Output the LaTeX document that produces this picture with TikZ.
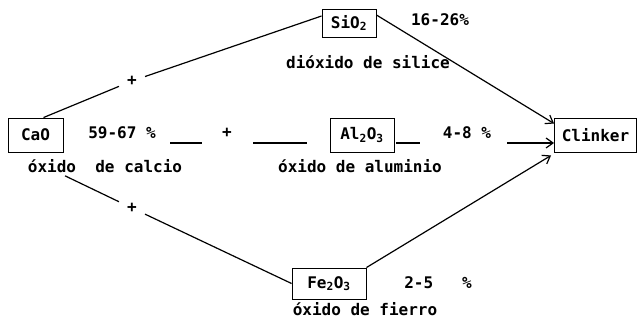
\documentclass[tikz,border=0pt]{standalone}
\usepackage{fontspec}
\setmonofont{DejaVu Sans Mono}
\usetikzlibrary{arrows.meta,positioning}

\newcommand\dotfont{\fontsize{16}{18}\selectfont\ttfamily\bfseries}
\newcommand\chemsub[1]{\textsubscript{#1}}

\tikzset{
  compound/.style={draw,line width=0.9pt,minimum height=34pt,inner sep=0pt,font=\dotfont},
  txt/.style={inner sep=0pt,font=\dotfont},
  link/.style={line width=1.2pt},
  flow/.style={line width=1.2pt,-{Straight Barb[length=7pt,width=10pt]}}
}

\begin{document}
\begin{tikzpicture}[x=1pt,y=-1pt]
       \useasboundingbox (0,0) rectangle (638,320);
       % boxes
       \node[compound,minimum width=55pt] (cao) at (35.5,135) {CaO};
       \node[compound,minimum width=54pt,minimum height=28pt] (sio) at (349,23) {SiO\chemsub{2}};
       \node[compound,minimum width=64pt] (alo) at (362,135) {Al\chemsub{2}O\chemsub{3}};
       \node[compound,minimum width=74pt,minimum height=31pt] (feo) at (329,283.5) {Fe\chemsub{2}O\chemsub{3}};
       \node[compound,minimum width=82pt] (clk) at (595.5,135) {Clinker};
       % names under the boxes
       \node[txt] (caoname) at (105,166) {óxido\ \ de calcio};
       \node[txt] (sioname) at (368,62) {dióxido de silice};
       \node[txt] (aloname) at (360,166) {óxido de aluminio};
       \node[txt] (feoname) at (365,309) {óxido de fierro};
       % percentages
       \node[txt] (caopct) at (122,133) {59-67 \%};
       \node[txt] (siopct) at (440,20) {16-26\%};
       \node[txt] (alopct) at (467,133) {4-8 \%};
       \node[txt] (feopct) at (438,283) {2-5\ \ \ \%};
       % plus signs
       \node[txt,inner sep=8pt] (plustop) at (132,81) {+};
       \node[txt] (plusmid) at (227,133) {+};
       \node[txt,inner sep=8pt] (plusbot) at (132,208) {+};
       % middle row dashes
       \coordinate (d1a) at (170,143);
       \coordinate (d1b) at (202,143);
       \coordinate (d2a) at (253,143);
       \coordinate (d2b) at (307,143);
       \coordinate (d3a) at (396,143);
       \coordinate (d3b) at (420,143);
       \coordinate (arra) at (507,143);
       \draw[link] (d1a) -- (d1b);
       \draw[link] (d2a) -- (d2b);
       \draw[link] (d3a) -- (d3b);
       \draw[flow] (arra) -- (clk.west |- arra);
       % upper and lower branches
       \draw[link] ([xshift=8pt]cao.north) -- (plustop);
       \draw[link] (plustop) -- ([yshift=7pt]sio.west);
       \draw[link] ([xshift=-40pt,yshift=-3pt]caoname.south) -- (plusbot);
       \draw[link] (plusbot) -- (feo.west);
       \draw[flow] ([yshift=8pt]sio.east) -- ([yshift=-6pt]clk.north west);
       \draw[flow] (feo.north east) -- ([xshift=-3pt,yshift=-3pt]clk.south west);
     \end{tikzpicture}
\end{document}
